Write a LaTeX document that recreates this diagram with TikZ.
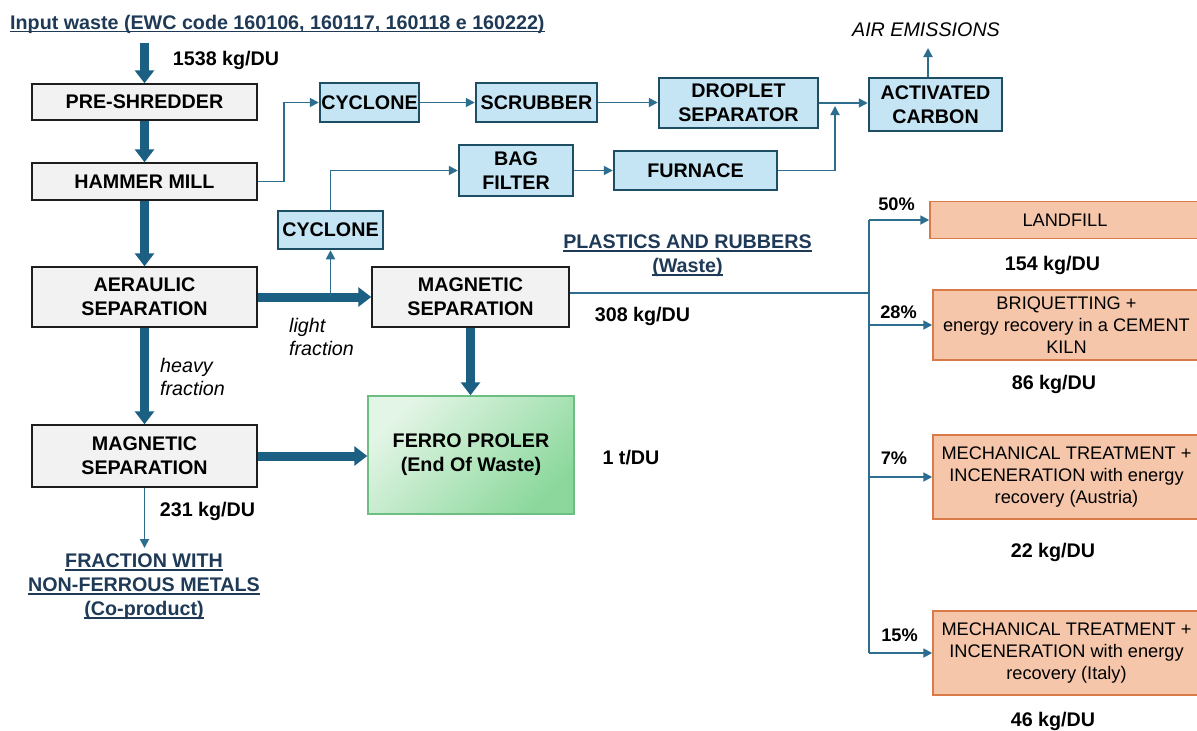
\documentclass[tikz,border=0pt]{standalone}
\usepackage{fontspec}
\setmainfont{Liberation Sans}
\usetikzlibrary{arrows.meta,calc}
\definecolor{thickc}{HTML}{1B5F82}
\definecolor{thinc}{HTML}{2D6E8E}
\definecolor{grayfill}{HTML}{F2F2F2}
\definecolor{grayline}{HTML}{1E1E1E}
\definecolor{bluefill}{HTML}{C5E5F4}
\definecolor{blueline}{HTML}{1E4E63}
\definecolor{greenA}{HTML}{E3F5E6}
\definecolor{greenB}{HTML}{8CD89C}
\definecolor{greenline}{HTML}{6DBE82}
\definecolor{orfill}{HTML}{F6C6AB}
\definecolor{orline}{HTML}{D97A4B}
\definecolor{navy}{HTML}{1F3A57}
\newcommand\myul[1]{{\setbox0\hbox{#1}\rlap{\rule[-3pt]{\wd0}{1.4pt}}\box0}}
\begin{document}
\begin{tikzpicture}[x=1pt,y=-1pt,
 bf/.style={font=\fontsize{19.7}{24}\selectfont\bfseries},
 rf/.style={font=\fontsize{18.2}{22}\selectfont},
 itf/.style={font=\fontsize{19.7}{23}\selectfont\itshape},
 lbl/.style={bf,inner sep=0pt},
 graybox/.style={bf,draw=grayline,fill=grayfill,line width=1.5pt,align=center,inner sep=0pt},
 bluebox/.style={bf,draw=blueline,fill=bluefill,line width=2.5pt,align=center,inner sep=0pt},
 orbox/.style={rf,draw=orline,fill=orfill,line width=1.5pt,align=center,inner sep=0pt},
 bigarrow/.style={draw=thickc,line width=9pt,-{Triangle[width=19pt,length=13pt]}},
 thinarrow/.style={draw=thinc,line width=1.8pt,-{Triangle[width=9pt,length=9pt]}},
 thinline/.style={draw=thinc,line width=1.8pt},
]
\useasboundingbox (0,0) rectangle (1197,731);
\fill[white] (0,0) rectangle (1197,731);

% title
\node[lbl,text=navy,anchor=base west] (title) at (10,29) {\myul{Input waste (EWC code 160106, 160117, 160118 e 160222)}};

% left column
\node[graybox,minimum width=225pt,minimum height=36pt] (pre) at (144.5,102) {PRE-SHREDDER};
\node[graybox,minimum width=225pt,minimum height=37pt] (ham) at (144.5,181.5) {HAMMER MILL};
\node[graybox,minimum width=225pt,minimum height=60pt] (aer) at (144.5,297) {AERAULIC\\SEPARATION};
\node[graybox,minimum width=225pt,minimum height=62pt] (magL) at (144.5,456) {MAGNETIC\\SEPARATION};
\node[graybox,minimum width=197pt,minimum height=60pt] (magM) at (470.5,297) {MAGNETIC\\SEPARATION};

% green
\node[bf,draw=greenline,line width=1.5pt,top color=greenA,bottom color=greenB,shading angle=45,
  minimum width=206pt,minimum height=118pt,align=center,inner sep=0pt] (ferro) at (471,455) {FERRO PROLER\\(End Of Waste)};

% blue boxes
\node[bluebox,minimum width=99pt,minimum height=39pt] (cyc1) at (369.5,102.5) {CYCLONE};
\node[bluebox,minimum width=121pt,minimum height=39pt] (scrub) at (536.5,102.5) {SCRUBBER};
\node[bluebox,minimum width=159pt,minimum height=50pt] (drop) at (738.5,103) {DROPLET\\SEPARATOR};
\node[bluebox,minimum width=133pt,minimum height=53pt] (act) at (935.5,104.5) {ACTIVATED\\CARBON};
\node[bluebox,minimum width=105pt,minimum height=38pt] (cyc2) at (330.5,230) {CYCLONE};
\node[bluebox,minimum width=114pt,minimum height=51pt] (bag) at (516,170.5) {BAG\\FILTER};
\node[bluebox,minimum width=163pt,minimum height=39pt] (furn) at (695.5,170.5) {FURNACE};

% orange boxes
\node[orbox,minimum width=270pt,minimum height=37pt] (land) at (1065,220) {LANDFILL};
\node[orbox,minimum width=267pt,minimum height=70pt] (briq) at (1066.5,325) {BRIQUETTING +\\energy recovery in a CEMENT\\KILN};
\node[orbox,minimum width=267pt,minimum height=84pt] (aus) at (1066.5,477) {MECHANICAL TREATMENT +\\INCENERATION with energy\\recovery (Austria)};
\node[orbox,minimum width=267pt,minimum height=84pt] (ita) at (1066.5,653) {MECHANICAL TREATMENT +\\INCENERATION with energy\\recovery (Italy)};

% labels
\node[lbl] (l1538) at (226,60) {1538 kg/DU};
\node[itf,inner sep=0pt,anchor=west,align=left] (heavy) at (160,376.5) {heavy\\fraction};
\node[itf,inner sep=0pt,anchor=west,align=left] (light) at (289,336.5) {light\\fraction};
\node[lbl] (l231) at (207.5,511) {231 kg/DU};
\node[lbl,text=navy,align=center] (co) at (144,587) {\myul{FRACTION WITH}\\\myul{NON-FERROUS METALS}\\\myul{(Co-product)}};
\node[lbl] (l1t) at (631,458) {1 t/DU};
\node[lbl,text=navy,align=center] (plast) at (687.5,256) {\myul{PLASTICS AND RUBBERS}\\\myul{(Waste)}};
\node[lbl] (l308) at (642.5,316) {308 kg/DU};
\node[itf,inner sep=0pt] (air) at (926,30) {AIR EMISSIONS};
\node[lbl,font=\fontsize{18.2}{22}\selectfont\bfseries] (p50) at (896.5,204) {50\%};
\node[lbl,font=\fontsize{18.2}{22}\selectfont\bfseries] (p28) at (898.5,312) {28\%};
\node[lbl,font=\fontsize{18.2}{22}\selectfont\bfseries] (p7) at (894,458) {7\%};
\node[lbl,font=\fontsize{18.2}{22}\selectfont\bfseries] (p15) at (899.5,635) {15\%};
\node[lbl] (l154) at (1052.5,265) {154 kg/DU};
\node[lbl] (l86) at (1054,384) {86 kg/DU};
\node[lbl] (l22) at (1053,552) {22 kg/DU};
\node[lbl] (l46) at (1053,721) {46 kg/DU};

% coordinates
\coordinate (in) at (144.5,43);
\coordinate (coTop) at (144.5,548);
\coordinate (airTip) at (928,48);
\coordinate (joinT) at (835,106);
\coordinate (split) at (869,293);

% thick arrows
\draw[bigarrow] (in) -- (pre.north);
\draw[bigarrow] (pre.south) -- (ham.north);
\draw[bigarrow] (ham.south) -- (aer.north);
\draw[bigarrow] (aer.south) -- (magL.north);
\draw[bigarrow] (aer.east) -- (magM.west);
\draw[bigarrow] (magL.east) -- (magL.east -| ferro.west);
\draw[bigarrow] (magM.south) -- (magM.south |- ferro.north);

% thin arrows
\draw[thinarrow] (magL.south) -- (coTop);
\draw[thinarrow] (ham.east) -- ++(26,0) |- (cyc1.west);
\draw[thinarrow] (cyc1.east) -- (scrub.west);
\draw[thinarrow] (scrub.east) -- (scrub.east -| drop.west);
\draw[thinarrow] (drop.east) -- (drop.east -| act.west);
\draw[thinarrow] (furn.east) -| (joinT);
\draw[thinarrow] (act.north -| airTip) -- (airTip);
\draw[thinarrow] (cyc2.south |- aer.east) -- (cyc2.south);
\draw[thinarrow] (cyc2.north) |- (bag.west);
\draw[thinarrow] (bag.east) -- (furn.west);

% distribution
\draw[thinline] ([yshift=4pt]magM.east) -- (split);
\draw[thinline] (split |- land.west) -- (split |- ita.west);
\draw[thinarrow] (split |- land.west) -- (land.west);
\draw[thinarrow] (split |- briq.west) -- (briq.west);
\draw[thinarrow] (split |- aus.west) -- (aus.west);
\draw[thinarrow] (split |- ita.west) -- (ita.west);
\end{tikzpicture}
\end{document}
